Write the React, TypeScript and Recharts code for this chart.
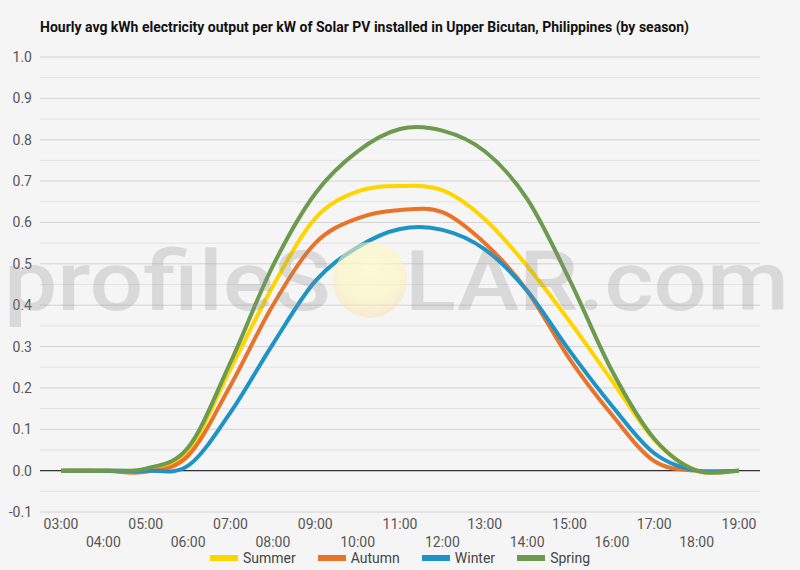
import * as React from "react"
import {
  LineChart, Line, XAxis, YAxis, CartesianGrid, ReferenceLine, Legend,
} from "recharts"

// hourly values (kWh per kW installed)
const hours = [
  "03:00", "04:00", "05:00", "06:00", "07:00", "08:00", "09:00", "10:00", "11:00",
  "12:00", "13:00", "14:00", "15:00", "16:00", "17:00", "18:00", "19:00",
]
const summer = [0, 0, 0.003, 0.048, 0.246, 0.446, 0.61, 0.675, 0.688, 0.678, 0.608, 0.495, 0.361, 0.218, 0.075, 0, 0]
const autumn = [0, 0, -0.003, 0.036, 0.206, 0.4, 0.55, 0.61, 0.63, 0.625, 0.55, 0.435, 0.27, 0.135, 0.023, 0, 0]
const winter = [0, 0, 0, 0.012, 0.141, 0.306, 0.458, 0.54, 0.584, 0.582, 0.535, 0.435, 0.29, 0.157, 0.042, 0, 0]
const spring = [0, 0, 0.005, 0.056, 0.262, 0.495, 0.67, 0.772, 0.826, 0.822, 0.772, 0.657, 0.462, 0.242, 0.077, 0, 0]

const yTicks = [-0.1, 0, 0.1, 0.2, 0.3, 0.4, 0.5, 0.6, 0.7, 0.8, 0.9, 1.0]
const minorLines = [-0.05, 0.05, 0.15, 0.25, 0.35, 0.45, 0.55, 0.65, 0.75, 0.85, 0.95]

const SERIES = [
  { key: "summer", name: "Summer", color: "#FFD500" },
  { key: "autumn", name: "Autumn", color: "#E8732A" },
  { key: "winter", name: "Winter", color: "#1E93C6" },
  { key: "spring", name: "Spring", color: "#6C9A4E" },
]

const data = hours.map((hour, i) => ({
  hour,
  summer: summer[i],
  autumn: autumn[i],
  winter: winter[i],
  spring: spring[i],
}))

const FONT = "Roboto, 'Noto Sans', sans-serif"

// Excel 风格的平滑曲线（Catmull-Rom → 三次贝塞尔）
function smoothCurve(context: any) {
  let pts: number[][] = []
  return {
    areaStart() {},
    areaEnd() {},
    lineStart() { pts = [] },
    lineEnd() {
      if (!pts.length) return
      context.moveTo(pts[0][0], pts[0][1])
      for (let i = 0; i < pts.length - 1; i++) {
        const p0 = pts[i - 1] || pts[i]
        const p1 = pts[i]
        const p2 = pts[i + 1]
        const p3 = pts[i + 2] || p2
        context.bezierCurveTo(
          p1[0] + (p2[0] - p0[0]) / 6, p1[1] + (p2[1] - p0[1]) / 6,
          p2[0] - (p3[0] - p1[0]) / 6, p2[1] - (p3[1] - p1[1]) / 6,
          p2[0], p2[1],
        )
      }
    },
    point(x: number, y: number) { pts.push([+x, +y]) },
  }
}

/** 两行交错的小时标签 */
function HourTick(props: any) {
  const { x, y, payload, index } = props
  return (
    <text
      x={x}
      y={y + (index % 2 ? 22 : 4)}
      textAnchor="middle"
      dominantBaseline="central"
      fontSize={14}
      fontFamily={FONT}
      fill="#555"
    >
      {payload.value}
    </text>
  )
}

function SeasonLegend() {
  return (
    <div style={{ display: "flex", justifyContent: "center", fontFamily: FONT, fontSize: 14, color: "#444" }}>
      {SERIES.map(s => (
        <div key={s.key} style={{ display: "flex", alignItems: "center", margin: "0 11px" }}>
          <span style={{ display: "inline-block", flexShrink: 0, width: 28, height: 6, marginRight: 5, background: s.color }} />
          <span style={{ whiteSpace: "nowrap" }}>{s.name}</span>
        </div>
      ))}
    </div>
  )
}

function Watermark() {
  return (
    <svg width={800} height={570} style={{ position: "absolute", left: 0, top: 0, pointerEvents: "none" }}>
      <defs>
        <radialGradient id="sun" cx="50%" cy="35%" r="65%">
          <stop offset="0%" stopColor="#fffbc8" stopOpacity={0.7} />
          <stop offset="65%" stopColor="#fff5b8" stopOpacity={0.55} />
          <stop offset="100%" stopColor="#fbdcb0" stopOpacity={0.5} />
        </radialGradient>
      </defs>
      <text x={4} y={310} fontSize={84} fontWeight={500} fontFamily={FONT} fill="rgba(140,140,140,0.26)"
        textLength={327} lengthAdjust="spacingAndGlyphs">profileS</text>
      <ellipse cx={370} cy={280} rx={37} ry={38} fill="url(#sun)" />
      <text x={405} y={310} fontSize={84} fontWeight={500} fontFamily={FONT} fill="rgba(140,140,140,0.26)"
        textLength={384} lengthAdjust="spacingAndGlyphs">LAR.com</text>
    </svg>
  )
}

export default function App() {
  return (
    <div style={{ position: "fixed", left: 0, top: 0, width: 800, height: 570, background: "#f5f5f5", overflow: "hidden" }}>
      <div style={{ position: "absolute", left: 40, top: 19, fontFamily: FONT, fontWeight: 700, fontSize: 14, color: "#111" }}>
        Hourly avg kWh electricity output per kW of Solar PV installed in Upper Bicutan, Philippines (by season)
      </div>
      <LineChart width={800} height={570} data={data} margin={{ top: 57, right: 40, left: 0, bottom: 0 }}>
        <CartesianGrid vertical={false} stroke="#d2d2d2" />
        {minorLines.map(v => (
          <ReferenceLine key={v} y={v} stroke="#e2e2e2" />
        ))}
        <XAxis
          dataKey="hour"
          interval={0}
          height={40}
          padding={{ left: 21, right: 21 }}
          axisLine={false}
          tickLine={false}
          tick={<HourTick />}
        />
        <YAxis
          domain={[-0.1, 1.0]}
          ticks={yTicks}
          width={40}
          axisLine={false}
          tickLine={false}
          tickFormatter={(v: number) => v.toFixed(1)}
          tick={{ fontSize: 14, fontFamily: FONT, fill: "#555" }}
        />
        <ReferenceLine y={0} stroke="#333" strokeWidth={1.2} />
        {SERIES.map(s => (
          <Line
            key={s.key}
            type={smoothCurve as any}
            dataKey={s.key}
            name={s.name}
            stroke={s.color}
            strokeWidth={4}
            dot={false}
            isAnimationActive={false}
          />
        ))}
        <Legend
          verticalAlign="bottom"
          height={18}
          content={() => <SeasonLegend />}
          wrapperStyle={{ left: 0, width: 800, bottom: 2 }}
        />
      </LineChart>
      <Watermark />
    </div>
  )
}
